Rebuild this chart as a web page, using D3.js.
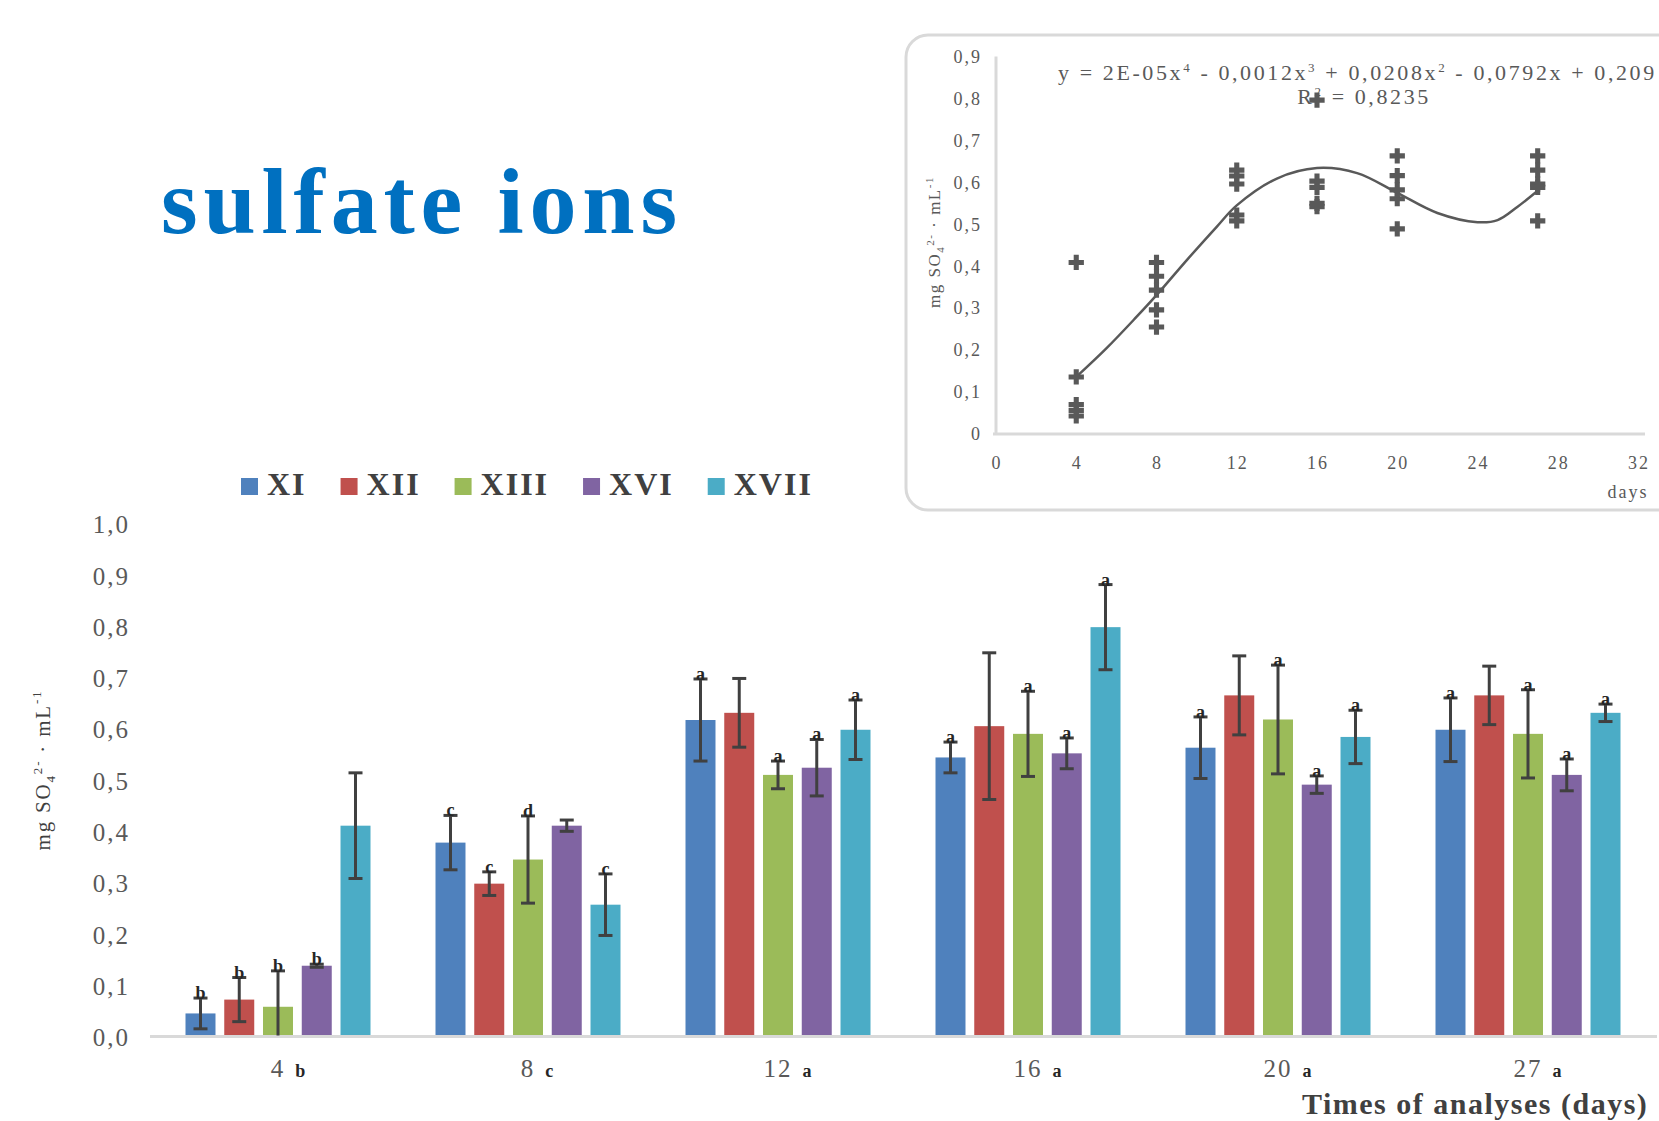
<!DOCTYPE html>
<html>
<head>
<meta charset="utf-8">
<script src="https://cdn.jsdelivr.net/npm/d3@7"></script>
<style>
  html, body { margin: 0; padding: 0; background: #fff; }
  svg { display: block; font-family: "Liberation Serif", "Times New Roman", serif; }
</style>
</head>
<body>
<svg id="chart" width="1659" height="1121"></svg>
<script>
// ---- data ----
const days = ["4", "8", "12", "16", "20", "27"];
const dayNumbers = [4, 8, 12, 16, 20, 27];
const dayLetters = ["b", "c", "a", "a", "a", "a"];

const seriesNames = ["XI", "XII", "XIII", "XVI", "XVII"];
const seriesColors = ["#4F81BD", "#C0504D", "#9BBB59", "#8064A2", "#4BACC6"];

// mean sulfate content (mg SO4 2- per mL) for each series, by day
const meanXI   = [0.043, 0.376, 0.615, 0.542, 0.561, 0.596];
const meanXII  = [0.070, 0.296, 0.629, 0.603, 0.663, 0.663];
const meanXIII = [0.056, 0.343, 0.508, 0.588, 0.616, 0.588];
const meanXVI  = [0.136, 0.409, 0.522, 0.550, 0.489, 0.508];
const meanXVII = [0.409, 0.255, 0.596, 0.796, 0.582, 0.629];

// standard deviations
const errXI   = [0.030, 0.053, 0.080, 0.030, 0.060, 0.062];
const errXII  = [0.043, 0.023, 0.067, 0.143, 0.077, 0.057];
const errXIII = [0.070, 0.085, 0.027, 0.083, 0.106, 0.086];
const errXVI  = [0.003, 0.011, 0.055, 0.030, 0.017, 0.031];
const errXVII = [0.103, 0.060, 0.058, 0.083, 0.052, 0.017];

// significance letters above the error bars
const letXI   = ["b", "c", "a", "a", "a", "a"];
const letXII  = ["b", "c", "", "", "", ""];
const letXIII = ["b", "d", "a", "a", "a", "a"];
const letXVI  = ["b", "", "a", "a", "a", "a"];
const letXVII = ["", "c", "a", "a", "a", "a"];

const yTicks = [0, 0.1, 0.2, 0.3, 0.4, 0.5, 0.6, 0.7, 0.8, 0.9, 1.0];

// inset: polynomial trendline
const insetXTicks = [0, 4, 8, 12, 16, 20, 24, 28, 32];
const insetYTicks = [0, 0.1, 0.2, 0.3, 0.4, 0.5, 0.6, 0.7, 0.8, 0.9];
const trendDays   = [4, 5.5, 7, 8, 9.5, 11, 12, 14, 16, 18, 20, 22, 24, 25, 26, 27];
const trendValues = [0.136, 0.204, 0.279, 0.331, 0.414, 0.494, 0.545, 0.609, 0.634, 0.622, 0.575, 0.527, 0.505, 0.51, 0.542, 0.58];

// ---- assemble ----
const means = [meanXI, meanXII, meanXIII, meanXVI, meanXVII];
const errs = [errXI, errXII, errXIII, errXVI, errXVII];
const lets = [letXI, letXII, letXIII, letXVI, letXVII];
const bars = [];
seriesNames.forEach((s, si) => {
  days.forEach((d, di) => {
    bars.push({ series: s, color: seriesColors[si], day: d, dayNum: dayNumbers[di],
      value: means[si][di], err: errs[si][di], letter: lets[si][di] });
  });
});

const svg = d3.select("#chart");
svg.append("rect").attr("width", 1659).attr("height", 1121).attr("fill", "#fff");

const fmtComma = d => d3.format(".1f")(d).replace(".", ",");

// ---- inset scatter with trendline ----
const inset = svg.append("g");
inset.append("rect")
  .attr("x", 906).attr("y", 35).attr("width", 900).attr("height", 475)
  .attr("rx", 22).attr("fill", "#fff").attr("stroke", "#d9d9d9").attr("stroke-width", 3);

const ix = d3.scaleLinear().domain([0, 32]).range([996, 1638]);
const iy = d3.scaleLinear().domain([0, 0.9]).range([434, 56.5]);

inset.append("line").attr("x1", ix(0)).attr("x2", ix(0)).attr("y1", iy(0.9)).attr("y2", iy(0))
  .attr("stroke", "#d9d9d9").attr("stroke-width", 3);
inset.append("line").attr("x1", ix(0) - 3).attr("x2", 1645).attr("y1", iy(0)).attr("y2", iy(0))
  .attr("stroke", "#d9d9d9").attr("stroke-width", 3);

inset.selectAll("text.iyt").data(insetYTicks).join("text")
  .attr("class", "iyt")
  .attr("x", 982).attr("y", d => iy(d)).attr("dy", "0.35em")
  .attr("text-anchor", "end").attr("font-size", 18).attr("letter-spacing", 2)
  .attr("fill", "#595959")
  .text(d => d === 0 ? "0" : fmtComma(d));

inset.selectAll("text.ixt").data(insetXTicks).join("text")
  .attr("class", "ixt")
  .attr("x", d => ix(d) + 1).attr("y", 463).attr("dy", "0.35em")
  .attr("text-anchor", "middle").attr("font-size", 18).attr("letter-spacing", 2)
  .attr("fill", "#595959")
  .text(d => d);

inset.append("text").attr("x", 1628).attr("y", 492).attr("dy", "0.35em")
  .attr("text-anchor", "middle").attr("font-size", 18).attr("letter-spacing", 2)
  .attr("fill", "#595959").text("days");

const iyTitle = inset.append("text")
  .attr("transform", "translate(940,242) rotate(-90)")
  .attr("text-anchor", "middle").attr("font-size", 17).attr("letter-spacing", 1.5)
  .attr("fill", "#595959");
iyTitle.append("tspan").text("mg SO");
iyTitle.append("tspan").attr("font-size", 11).attr("dy", 4).text("4");
iyTitle.append("tspan").attr("font-size", 11).attr("dy", -10).text("2-");
iyTitle.append("tspan").attr("dy", 6).text(" · mL");
iyTitle.append("tspan").attr("font-size", 11).attr("dy", -7).text("-1");

// trendline
inset.append("path")
  .datum(trendDays.map((d, i) => [d, trendValues[i]]))
  .attr("fill", "none").attr("stroke", "#595959").attr("stroke-width", 2.5)
  .attr("d", d3.line().x(d => ix(d[0])).y(d => iy(d[1])).curve(d3.curveCatmullRom));

// scatter of the series means
inset.selectAll("path.pt").data(bars).join("path")
  .attr("class", "pt")
  .attr("transform", d => `translate(${ix(d.dayNum)},${iy(d.value)})`)
  .attr("d", d3.symbol(d3.symbolCross, 130))
  .attr("fill", "#595959");

// equation and R²
const eq = inset.append("text").attr("x", 1058).attr("y", 80)
  .attr("font-size", 22).attr("letter-spacing", 2.6).attr("fill", "#595959");
eq.append("tspan").text("y = 2E-05x");
eq.append("tspan").attr("font-size", 13).attr("dy", -8).text("4");
eq.append("tspan").attr("dy", 8).text(" - 0,0012x");
eq.append("tspan").attr("font-size", 13).attr("dy", -8).text("3");
eq.append("tspan").attr("dy", 8).text(" + 0,0208x");
eq.append("tspan").attr("font-size", 13).attr("dy", -8).text("2");
eq.append("tspan").attr("dy", 8).text(" - 0,0792x + 0,209");

const r2 = inset.append("text").attr("x", 1364).attr("y", 104)
  .attr("text-anchor", "middle")
  .attr("font-size", 22).attr("letter-spacing", 2.6).attr("fill", "#595959");
r2.append("tspan").text("R");
r2.append("tspan").attr("font-size", 13).attr("dy", -8).text("2");
r2.append("tspan").attr("dy", 8).text(" = 0,8235");

// ---- title ----
svg.append("text").attr("x", 161).attr("y", 233)
  .attr("font-size", 94).attr("font-weight", "bold").attr("fill", "#0070C0")
  .attr("textLength", 516).attr("lengthAdjust", "spacing")
  .text("sulfate ions");

// ---- main bar chart ----
const x0 = d3.scaleBand().domain(days).range([153, 1653]).paddingInner(0.26).paddingOuter(0.13);
const x1 = d3.scaleBand().domain(seriesNames).range([0, x0.bandwidth()]).paddingInner(0.226);
const y = d3.scaleLinear().domain([0, 1]).range([1035.5, 522.5]);

// y tick labels
svg.selectAll("text.yt").data(yTicks).join("text")
  .attr("class", "yt")
  .attr("x", 130).attr("y", d => y(d) + 2).attr("dy", "0.35em")
  .attr("text-anchor", "end").attr("font-size", 25).attr("letter-spacing", 2)
  .attr("fill", "#595959")
  .text(fmtComma);

// y axis title
const yTitle = svg.append("text")
  .attr("transform", "translate(50,770) rotate(-90)")
  .attr("text-anchor", "middle").attr("font-size", 21).attr("letter-spacing", 1.8)
  .attr("fill", "#404040");
yTitle.append("tspan").text("mg SO");
yTitle.append("tspan").attr("font-size", 13).attr("dy", 5).text("4");
yTitle.append("tspan").attr("font-size", 13).attr("dy", -13).text("2-");
yTitle.append("tspan").attr("dy", 8).text(" · mL");
yTitle.append("tspan").attr("font-size", 13).attr("dy", -9).text("-1");

// bars
const bx = d => x0(d.day) + x1(d.series);
svg.selectAll("rect.bar").data(bars).join("rect")
  .attr("class", "bar")
  .attr("x", bx).attr("width", x1.bandwidth())
  .attr("y", d => y(d.value)).attr("height", d => y(0) - y(d.value))
  .attr("fill", d => d.color);

// baseline
svg.append("line").attr("x1", 150).attr("x2", 1657).attr("y1", y(0) + 1).attr("y2", y(0) + 1)
  .attr("stroke", "#d9d9d9").attr("stroke-width", 3);

// error bars
const eb = svg.selectAll("g.err").data(bars).join("g").attr("class", "err")
  .attr("stroke", "#404040").attr("stroke-width", 3);
const cx = d => bx(d) + x1.bandwidth() / 2;
const lo = d => Math.max(0, d.value - d.err);
eb.append("line").attr("x1", cx).attr("x2", cx)
  .attr("y1", d => y(d.value + d.err)).attr("y2", d => y(lo(d)));
eb.append("line").attr("x1", d => cx(d) - 7).attr("x2", d => cx(d) + 7)
  .attr("y1", d => y(d.value + d.err)).attr("y2", d => y(d.value + d.err));
eb.filter(d => d.value - d.err > 0).append("line")
  .attr("x1", d => cx(d) - 7).attr("x2", d => cx(d) + 7)
  .attr("y1", d => y(lo(d))).attr("y2", d => y(lo(d)));

// significance letters
svg.selectAll("text.sig").data(bars.filter(d => d.letter)).join("text")
  .attr("class", "sig")
  .attr("x", cx).attr("y", d => y(d.value + d.err) + 1)
  .attr("text-anchor", "middle").attr("font-size", 18).attr("font-weight", "bold")
  .attr("fill", "#262626")
  .text(d => d.letter);

// x labels: day number with its group letter
days.forEach((d, i) => {
  const c = x0(d) + x0.bandwidth() / 2;
  const t = svg.append("text").attr("x", c).attr("y", 1077)
    .attr("text-anchor", "middle").attr("font-size", 25).attr("letter-spacing", 2)
    .attr("fill", "#595959").text(d);
  const w = t.node().getComputedTextLength();
  svg.append("text").attr("x", c + w / 2 + 10).attr("y", 1077)
    .attr("font-size", 18).attr("font-weight", "bold").attr("fill", "#262626")
    .text(dayLetters[i]);
});

// x axis title
svg.append("text").attr("x", 1302).attr("y", 1114)
  .attr("font-size", 30).attr("font-weight", "bold").attr("letter-spacing", 1.5)
  .attr("fill", "#404040").text("Times of analyses (days)");

// legend
let lx = 241;
seriesNames.forEach((s, i) => {
  svg.append("rect").attr("x", lx).attr("y", 478).attr("width", 17).attr("height", 17)
    .attr("fill", seriesColors[i]);
  const t = svg.append("text").attr("x", lx + 26).attr("y", 495)
    .attr("font-size", 32).attr("font-weight", "bold").attr("letter-spacing", 2)
    .attr("fill", "#404040").text(s);
  lx += 26 + t.node().getComputedTextLength() + 34;
});
</script>
</body>
</html>
